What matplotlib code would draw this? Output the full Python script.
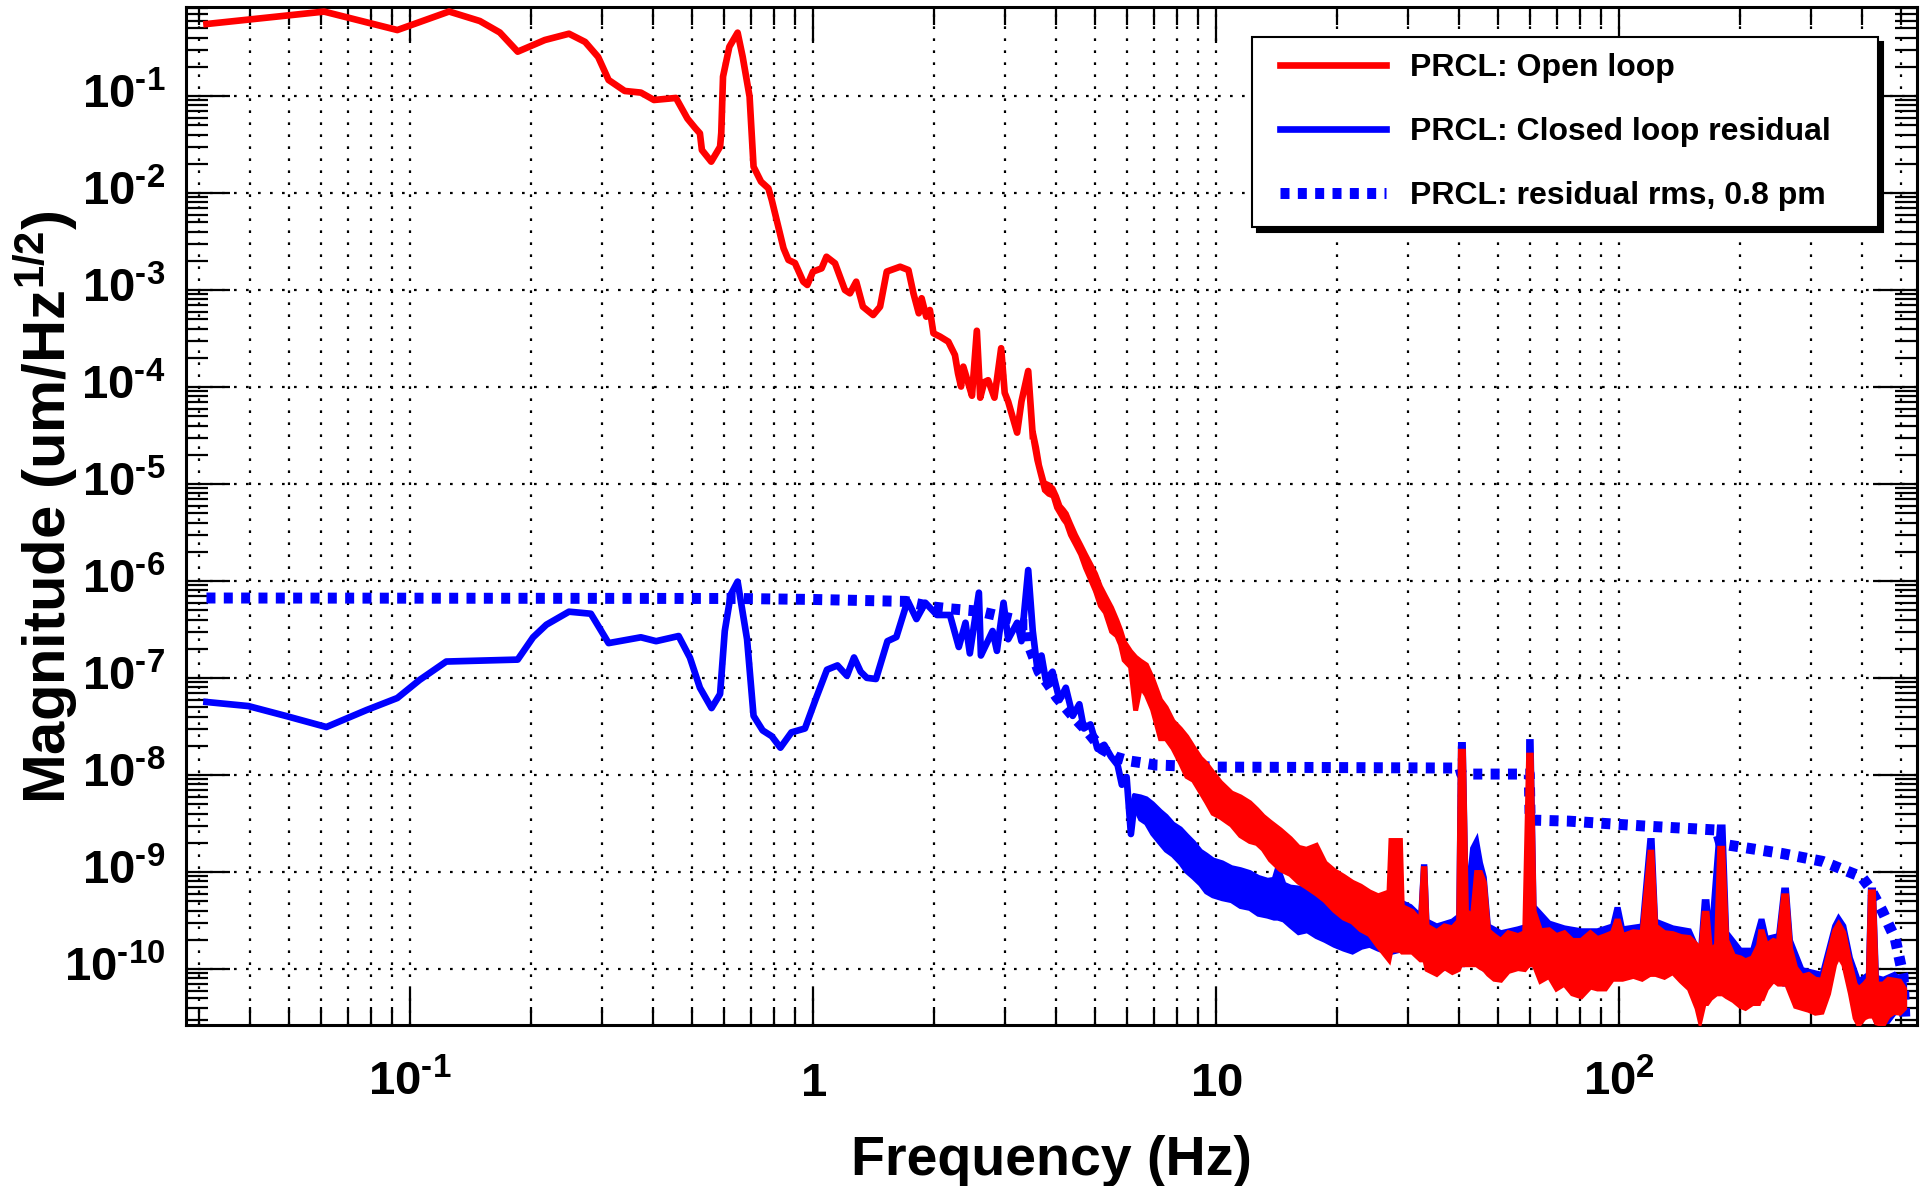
import numpy as np
import matplotlib
matplotlib.use("Agg")
import matplotlib.pyplot as plt
from matplotlib.ticker import FixedLocator, FixedFormatter, LogLocator, NullFormatter
from matplotlib.legend_handler import HandlerLine2D
from matplotlib.lines import Line2D

# ---------------- data (log10 of magnitude in um/Hz^1/2) ----------------
red_freq = [0.03125, 0.0612, 0.093, 0.125, 0.149, 0.167, 0.185, 0.216, 0.248, 0.272,
            0.293, 0.311, 0.341, 0.374, 0.403, 0.457, 0.488, 0.51, 0.524, 0.53,
            0.559, 0.588, 0.592, 0.598, 0.62, 0.65, 0.669, 0.696, 0.712, 0.743,
            0.775, 0.79, 0.82, 0.845, 0.869, 0.902, 0.946, 0.968, 1.0, 1.05,
            1.08, 1.134, 1.2, 1.235, 1.28, 1.33, 1.41, 1.467, 1.524, 1.645,
            1.725, 1.775, 1.83, 1.86, 1.91, 1.95, 1.99, 2.066, 2.167, 2.25,
            2.29, 2.33, 2.36, 2.42, 2.48, 2.55, 2.60, 2.66, 2.72, 2.82,
            2.93, 2.99, 3.05, 3.21, 3.29, 3.42, 3.51]
red_log_mag = [-0.258, -0.13, -0.32, -0.129, -0.227, -0.345, -0.543, -0.423, -0.358, -0.443,
               -0.598, -0.835, -0.948, -0.965, -1.041, -1.02, -1.233, -1.33, -1.385, -1.557,
               -1.677, -1.523, -1.381, -0.80, -0.492, -0.347, -0.595, -1.007, -1.729, -1.883,
               -1.952, -2.072, -2.347, -2.57, -2.69, -2.722, -2.914, -2.948, -2.81, -2.777,
               -2.657, -2.725, -3.0, -3.034, -2.914, -3.172, -3.258, -3.172, -2.81, -2.76,
               -2.794, -3.034, -3.24, -3.085, -3.275, -3.206, -3.446, -3.48, -3.533, -3.67,
               -3.859, -3.995, -3.79, -3.94, -4.09, -3.42, -4.11, -3.95, -3.93, -4.11,
               -3.60, -4.06, -4.15, -4.47, -4.15, -3.835, -4.506]

red_band_freq = [3.51, 3.58, 3.64, 3.74, 3.83, 3.93, 4.01, 4.09, 4.17, 4.24,
                 4.34, 4.47, 4.60, 4.73, 4.87, 5.01, 5.15, 5.30, 5.49, 5.66,
                 5.78, 5.90, 6.12, 6.30, 6.48, 6.70, 6.94, 7.26, 7.50, 7.80,
                 8.14, 8.44, 8.77, 9.13, 9.44, 9.80, 10.23, 10.9, 11.47, 12.1,
                 12.6, 13.06, 13.6, 14.41, 15.26, 15.99, 16.72, 17.7, 18.6, 19.6,
                 20.7, 21.75, 22.8, 24.0, 25.2, 26.8, 27.1, 28.6, 28.9, 30.6,
                 32.1, 32.6, 32.9, 33.3, 35.2, 36.8, 38.5, 39.9, 40.3, 41.0,
                 41.7, 43.2, 44.2, 45.2, 46.2, 47.3, 48.9, 50.8, 53.0, 56.0,
                 58.2, 59.5, 60.4, 61.4, 63.7, 66.9, 69.8, 73.0, 76.4, 80.4,
                 84.7, 88.2, 92.3, 96.1, 98.3, 99.5, 101.8, 108.3, 113.8, 119.0,
                 120.4, 123.0, 129.3, 135.7, 142.2, 149.1, 155.8, 158.5, 162.2, 165.0,
                 168.2, 174.1, 177.3, 180.4, 184.6, 191.9, 199.7, 205.4, 213.9, 221.5,
                 223.9, 226.4, 231.6, 241.0, 248.0, 255.4, 259.9, 265.7, 273.5, 283.8,
                 294.8, 306.3, 318.2, 330.2, 341.9, 349.9, 360.4, 374.3, 384.4, 392.3,
                 404.9, 414.5, 419.6, 426.8, 434.4, 451.6, 464.8, 481.0, 496.2, 510.0]
red_band_hi = [-4.45, -4.62, -4.80, -4.98, -5.00, -5.04, -5.12, -5.22, -5.26, -5.30,
               -5.40, -5.52, -5.62, -5.72, -5.82, -5.92, -6.05, -6.15, -6.27, -6.40,
               -6.50, -6.62, -6.72, -6.78, -6.82, -6.86, -7.00, -7.22, -7.30, -7.44,
               -7.52, -7.60, -7.71, -7.82, -7.88, -7.97, -8.07, -8.18, -8.22, -8.28,
               -8.35, -8.42, -8.48, -8.56, -8.65, -8.74, -8.76, -8.72, -8.90, -8.98,
               -9.04, -9.10, -9.14, -9.20, -9.24, -9.20, -8.67, -8.67, -9.35, -9.40,
               -9.50, -8.96, -8.96, -9.55, -9.61, -9.55, -9.57, -9.50, -7.75, -7.75,
               -9.40, -9.45, -9.00, -9.00, -9.10, -9.60, -9.65, -9.70, -9.62, -9.65,
               -9.62, -7.79, -7.79, -9.40, -9.60, -9.59, -9.65, -9.62, -9.70, -9.70,
               -9.62, -9.68, -9.65, -9.62, -9.50, -9.50, -9.65, -9.61, -9.62, -8.79,
               -8.79, -9.55, -9.62, -9.63, -9.66, -9.67, -9.75, -9.90, -9.42, -9.42,
               -9.80, -9.75, -8.75, -8.75, -9.70, -9.86, -9.88, -9.91, -9.88, -9.75,
               -9.61, -9.61, -9.75, -9.70, -9.72, -9.24, -9.24, -9.78, -9.98, -10.07,
               -10.05, -10.10, -10.11, -9.85, -9.60, -9.53, -9.62, -9.95, -10.15, -10.20,
               -10.15, -10.10, -9.20, -9.20, -10.15, -10.15, -10.10, -10.11, -10.12, -10.20]
red_band_lo = [-4.55, -4.75, -4.87, -5.06, -5.10, -5.12, -5.24, -5.30, -5.36, -5.40,
               -5.52, -5.62, -5.72, -5.86, -5.98, -6.10, -6.25, -6.32, -6.515, -6.56,
               -6.65, -6.81, -6.88, -7.33, -7.08, -7.17, -7.32, -7.62, -7.62, -7.72,
               -7.87, -8.01, -8.05, -8.17, -8.27, -8.39, -8.43, -8.51, -8.62, -8.68,
               -8.70, -8.76, -8.87, -8.97, -9.02, -9.10, -9.15, -9.22, -9.29, -9.39,
               -9.47, -9.51, -9.59, -9.64, -9.76, -9.90, -9.80, -9.80, -9.82, -9.82,
               -9.90, -9.90, -9.90, -10.00, -10.05, -9.98, -10.03, -10.00, -9.95, -9.95,
               -9.95, -9.95, -9.95, -9.98, -10.00, -10.05, -10.10, -10.11, -10.02, -9.99,
               -10.00, -9.95, -9.95, -9.95, -10.12, -10.07, -10.20, -10.15, -10.25, -10.28,
               -10.18, -10.20, -10.20, -10.10, -10.10, -10.10, -10.10, -10.07, -10.10, -10.05,
               -10.05, -10.05, -10.08, -10.03, -10.12, -10.20, -10.40, -10.53, -10.35, -10.35,
               -10.30, -10.25, -10.25, -10.25, -10.28, -10.32, -10.38, -10.40, -10.35, -10.35,
               -10.30, -10.30, -10.20, -10.11, -10.15, -10.15, -10.15, -10.25, -10.38, -10.40,
               -10.42, -10.45, -10.44, -10.25, -9.95, -9.86, -9.95, -10.25, -10.50, -10.57,
               -10.50, -10.48, -10.48, -10.48, -10.55, -10.57, -10.48, -10.44, -10.45, -10.40]

blue_freq = [0.03125, 0.0397, 0.0493, 0.062, 0.078, 0.093, 0.1056, 0.123, 0.185, 0.202,
             0.218, 0.248, 0.281, 0.311, 0.374, 0.408, 0.464, 0.495, 0.524, 0.56,
             0.588, 0.604, 0.625, 0.65, 0.686, 0.712, 0.75, 0.79, 0.83, 0.884,
             0.955, 1.018, 1.083, 1.15, 1.214, 1.264, 1.313, 1.36, 1.433, 1.53,
             1.61, 1.717, 1.806, 1.9, 2.03, 2.187, 2.3, 2.39, 2.45, 2.58,
             2.61, 2.79, 2.86, 2.97, 3.05, 3.21, 3.29, 3.42, 3.51, 3.6,
             3.69, 3.78, 3.93, 4.09, 4.24, 4.41, 4.58, 4.70, 4.88, 5.08,
             5.28, 5.49, 5.7, 5.84, 6.0, 6.15, 6.3]
blue_log_mag = [-7.247, -7.289, -7.392, -7.505, -7.33, -7.206, -7.02, -6.83, -6.81, -6.58,
                -6.45, -6.316, -6.337, -6.64, -6.58, -6.62, -6.567, -6.79, -7.1, -7.31,
                -7.165, -6.515, -6.14, -6.006, -6.6, -7.39, -7.54, -7.60, -7.718, -7.56,
                -7.52, -7.206, -6.914, -6.87, -6.977, -6.788, -6.935, -6.998, -7.01, -6.62,
                -6.577, -6.203, -6.392, -6.224, -6.35, -6.35, -6.68, -6.43, -6.746, -6.12,
                -6.768, -6.515, -6.72, -6.224, -6.6, -6.43, -6.62, -5.887, -6.515, -6.893,
                -6.768, -7.02, -6.935, -7.227, -7.10, -7.39, -7.27, -7.52, -7.478, -7.73,
                -7.688, -7.81, -7.897, -8.10, -8.02, -8.608, -8.23]

blue_band_freq = [6.30, 6.48, 6.70, 6.94, 7.26, 7.50, 7.80, 8.14, 8.44, 8.77,
                  9.13, 9.44, 9.80, 10.34, 10.9, 11.47, 12.1, 12.7, 13.4, 13.9,
                  14.2, 14.7, 15.26, 15.99, 16.8, 17.7, 18.6, 19.6, 20.7, 21.75,
                  22.9, 24.0, 25.2, 26.8, 28.6, 30.3, 32.1, 32.6, 32.9, 33.3,
                  35.2, 38.5, 39.9, 40.3, 41.0, 41.7, 43.2, 44.2, 45.2, 46.2,
                  47.3, 50.8, 56.0, 59.3, 59.5, 60.4, 61.4, 66.9, 73.0, 80.4,
                  88.2, 96.1, 98.3, 99.5, 101.8, 113.8, 118.8, 120.6, 123.0, 135.7,
                  149.1, 158.5, 162.2, 165.0, 168.2, 176.9, 180.8, 184.6, 199.7, 213.9,
                  223.9, 226.4, 231.6, 248.0, 255.4, 259.9, 265.7, 283.8, 318.2, 341.9,
                  349.9, 360.4, 374.3, 392.3, 414.5, 419.2, 427.2, 434.4, 451.6, 481.0,
                  510.0]
blue_band_hi = [-8.21, -8.22, -8.24, -8.29, -8.37, -8.42, -8.50, -8.55, -8.62, -8.69,
                -8.78, -8.82, -8.87, -8.90, -8.95, -8.97, -9.00, -9.05, -9.08, -9.07,
                -8.94, -9.12, -9.15, -9.16, -9.17, -9.21, -9.27, -9.33, -9.35, -9.37,
                -9.39, -9.41, -9.42, -9.37, -9.30, -9.35, -9.45, -8.94, -8.94, -9.50,
                -9.55, -9.50, -9.45, -7.68, -7.68, -9.35, -8.75, -8.67, -8.90, -9.05,
                -9.55, -9.62, -9.58, -9.55, -7.65, -7.65, -9.35, -9.52, -9.57, -9.60,
                -9.60, -9.55, -9.38, -9.38, -9.58, -9.55, -8.67, -8.67, -9.50, -9.57,
                -9.60, -9.85, -9.30, -9.30, -9.72, -8.53, -8.53, -9.62, -9.80, -9.80,
                -9.50, -9.50, -9.68, -9.65, -9.18, -9.18, -9.70, -10.00, -10.05, -9.55,
                -9.47, -9.55, -9.88, -10.12, -10.05, -9.18, -9.18, -10.08, -10.10, -10.05,
                -10.15]
blue_band_lo = [-8.34, -8.45, -8.49, -8.60, -8.70, -8.77, -8.82, -8.90, -8.99, -9.05,
                -9.12, -9.20, -9.24, -9.27, -9.29, -9.35, -9.37, -9.43, -9.45, -9.47,
                -9.47, -9.49, -9.55, -9.62, -9.60, -9.66, -9.70, -9.75, -9.79, -9.82,
                -9.77, -9.75, -9.79, -9.83, -9.80, -9.78, -9.85, -9.85, -9.85, -9.95,
                -10.00, -9.98, -9.95, -9.95, -9.95, -9.90, -9.90, -9.90, -9.95, -10.00,
                -10.00, -10.05, -9.95, -9.95, -9.95, -9.95, -9.90, -10.02, -10.10, -10.20,
                -10.15, -10.05, -10.05, -10.05, -10.05, -10.05, -10.00, -10.00, -10.00, -9.98,
                -10.15, -10.45, -10.30, -10.30, -10.25, -10.20, -10.20, -10.22, -10.32, -10.30,
                -10.25, -10.25, -10.15, -10.10, -10.15, -10.15, -10.20, -10.35, -10.40, -9.90,
                -9.82, -9.90, -10.20, -10.55, -10.45, -10.45, -10.45, -10.55, -10.60, -10.45,
                -10.42]

rms_freq = [0.03125, 0.65, 1.0, 1.7, 1.97, 2.19, 2.57, 3.12, 3.36, 3.42,
            3.45, 3.64, 3.83, 4.03, 4.41, 4.82, 5.2, 5.65, 6.1, 6.6,
            7.1, 10.0, 40.3, 40.7, 59.9, 60.2, 75.0, 116.0, 175.0, 179.0,
            255.0, 320.0, 400.0, 418.0, 450.0, 485.0, 507.0, 512.0]
rms_log_mag = [-6.175, -6.18, -6.19, -6.21, -6.266, -6.287, -6.31, -6.39, -6.45, -6.45,
               -6.68, -6.935, -7.06, -7.2, -7.39, -7.56, -7.73, -7.815, -7.855, -7.876,
               -7.897, -7.918, -7.928, -7.99, -7.99, -8.464, -8.475, -8.526, -8.567, -8.71,
               -8.81, -8.89, -9.05, -9.155, -9.4, -9.69, -10.07, -10.49]

series_labels = ["PRCL: Open loop", "PRCL: Closed loop residual", "PRCL: residual rms, 0.8 pm"]
x_tick_values = [0.1, 1, 10, 100]
x_tick_labels = [r"$10^{\text{-}1}$", r"$1$", r"$10$", r"$10^{2}$"]
y_tick_values = [1e-10, 1e-9, 1e-8, 1e-7, 1e-6, 1e-5, 1e-4, 1e-3, 1e-2, 1e-1]
y_tick_labels = [r"$10^{\text{-}10}$", r"$10^{\text{-}9}$", r"$10^{\text{-}8}$", r"$10^{\text{-}7}$",
                 r"$10^{\text{-}6}$", r"$10^{\text{-}5}$", r"$10^{\text{-}4}$", r"$10^{\text{-}3}$",
                 r"$10^{\text{-}2}$", r"$10^{\text{-}1}$"]

# ---------------- style ----------------
plt.rcParams["font.family"] = ["Liberation Sans", "DejaVu Sans"]
plt.rcParams["font.weight"] = "bold"
plt.rcParams["mathtext.fontset"] = "custom"
plt.rcParams["mathtext.rm"] = "Liberation Sans:bold"
plt.rcParams["mathtext.it"] = "Liberation Sans:bold"
plt.rcParams["mathtext.bf"] = "Liberation Sans:bold"
plt.rcParams["mathtext.sf"] = "Liberation Sans:bold"
plt.rcParams["axes.linewidth"] = 2.2

fig = plt.figure(figsize=(19.29, 11.86), dpi=100)
ax = fig.add_axes([0.09642, 0.13575, 0.89736, 0.85835])
ax.set_xscale("log")
ax.set_yscale("log")

RED = (1, 0, 0)
BLUE = (0, 0, 1)
LW = 4.8
BAND_EDGE = 3.6

l_rms, = ax.plot(rms_freq, 10 ** np.array(rms_log_mag), color=BLUE, lw=7.9,
                 linestyle=(0, (0.82, 0.76)), dash_capstyle="butt", zorder=2.2,
                 label=series_labels[2])
l_blue, = ax.plot(blue_freq, 10 ** np.array(blue_log_mag), color=BLUE, lw=LW,
                  solid_joinstyle="round", zorder=2.4, label=series_labels[1])
ax.fill_between(blue_band_freq, 10 ** np.array(blue_band_lo), 10 ** np.array(blue_band_hi),
                facecolor=BLUE, edgecolor=BLUE, lw=BAND_EDGE, joinstyle="miter", zorder=2.4)
l_red, = ax.plot(red_freq, 10 ** np.array(red_log_mag), color=RED, lw=LW,
                 solid_joinstyle="round", zorder=2.6, label=series_labels[0])
ax.fill_between(red_band_freq, 10 ** np.array(red_band_lo), 10 ** np.array(red_band_hi),
                facecolor=RED, edgecolor=RED, lw=BAND_EDGE, joinstyle="miter", zorder=2.6)

ax.set_xlim(0.0278, 549)
ax.set_ylim(2.65e-11, 0.827)

ax.xaxis.set_major_locator(FixedLocator(x_tick_values))
ax.xaxis.set_major_formatter(FixedFormatter(x_tick_labels))
ax.xaxis.set_minor_locator(LogLocator(base=10, subs=np.arange(2, 10), numticks=200))
ax.xaxis.set_minor_formatter(NullFormatter())
ax.yaxis.set_major_locator(FixedLocator(y_tick_values))
ax.yaxis.set_major_formatter(FixedFormatter(y_tick_labels))
ax.yaxis.set_minor_locator(LogLocator(base=10, subs=np.arange(2, 10), numticks=200))
ax.yaxis.set_minor_formatter(NullFormatter())

grid_ls = (0, (1.2, 4.2))
ax.grid(True, which="major", axis="both", color="black", linestyle=grid_ls, linewidth=1.6)
ax.grid(True, which="minor", axis="x", color="black", linestyle=grid_ls, linewidth=1.6)
ax.grid(False, which="minor", axis="y")

ax.tick_params(which="both", direction="in", top=True, right=True, width=1.6, colors="black")
ax.tick_params(axis="x", which="major", length=26, pad=51, labelsize=34)
ax.tick_params(axis="x", which="minor", length=13)
ax.tick_params(axis="y", which="major", length=31.7, pad=15, labelsize=34)
ax.tick_params(axis="y", which="minor", length=15.8)
for t in ax.xaxis.get_major_ticks():
    t.label1.set_va("baseline")
for t in ax.yaxis.get_major_ticks():
    t.label1.set_va("center")

ax.set_xlabel("Frequency (Hz)", fontsize=40, fontweight="bold", va="baseline")
ax.xaxis.set_label_coords(0.5, -0.1473)
ax.set_ylabel(r"Magnitude (um/Hz$^{1/2}$)", fontsize=43, fontweight="bold", va="baseline")
ax.yaxis.set_label_coords(-0.0693, 0.509)

hl = HandlerLine2D(xpad=0.38)
leg = ax.legend(handles=[l_red, l_blue, l_rms], labels=series_labels,
                loc="upper left", bbox_to_anchor=(0.6158, 0.7839, 0.3617, 0.1866),
                mode="expand", borderaxespad=0, frameon=True, fancybox=False,
                edgecolor="black", facecolor="white", framealpha=1, fontsize=23,
                handlelength=3.7, handletextpad=0.75, labelspacing=1.07, borderpad=0.5,
                shadow={"ox": 3.6, "oy": -3.6, "facecolor": "black", "edgecolor": "black", "alpha": 1},
                handler_map={Line2D: hl})
leg.get_frame().set_linewidth(1.5)
leg.set_zorder(10)

fig.savefig("out.png", dpi=100)
